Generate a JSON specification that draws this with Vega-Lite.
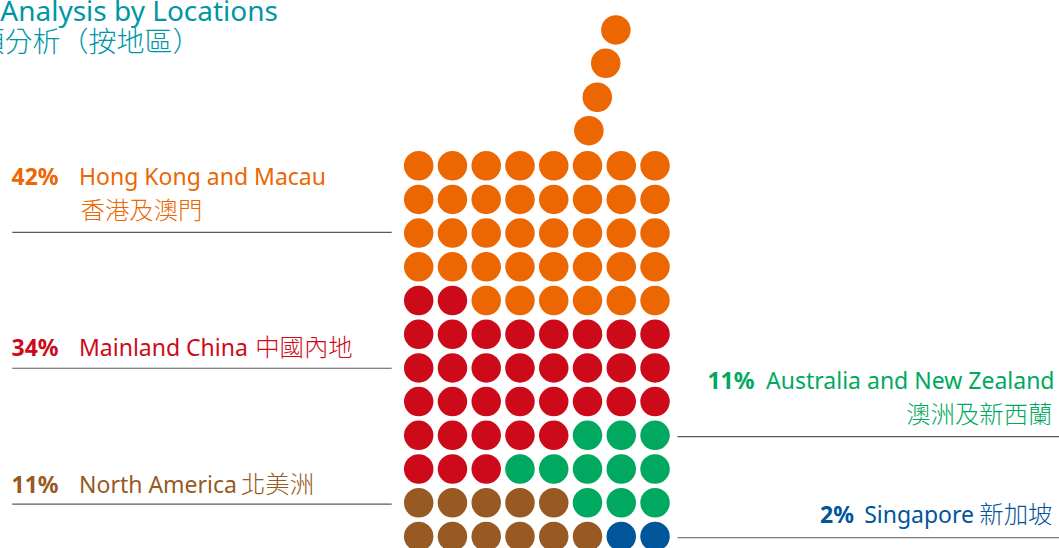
{
  "$schema": "https://vega.github.io/schema/vega-lite/v6.json",
  "width": 1059,
  "height": 548,
  "padding": 0,
  "autosize": {"type": "none"},
  "background": "white",
  "config": {"view": {"stroke": null}},
  "datasets": {
    "dots": [
      {"c":0,"r":0,"g":"NA"},{"c":1,"r":0,"g":"NA"},{"c":2,"r":0,"g":"NA"},{"c":3,"r":0,"g":"NA"},{"c":4,"r":0,"g":"NA"},{"c":5,"r":0,"g":"NA"},{"c":6,"r":0,"g":"SG"},{"c":7,"r":0,"g":"SG"},
      {"c":0,"r":1,"g":"NA"},{"c":1,"r":1,"g":"NA"},{"c":2,"r":1,"g":"NA"},{"c":3,"r":1,"g":"NA"},{"c":4,"r":1,"g":"NA"},{"c":5,"r":1,"g":"AU"},{"c":6,"r":1,"g":"AU"},{"c":7,"r":1,"g":"AU"},
      {"c":0,"r":2,"g":"CN"},{"c":1,"r":2,"g":"CN"},{"c":2,"r":2,"g":"CN"},{"c":3,"r":2,"g":"AU"},{"c":4,"r":2,"g":"AU"},{"c":5,"r":2,"g":"AU"},{"c":6,"r":2,"g":"AU"},{"c":7,"r":2,"g":"AU"},
      {"c":0,"r":3,"g":"CN"},{"c":1,"r":3,"g":"CN"},{"c":2,"r":3,"g":"CN"},{"c":3,"r":3,"g":"CN"},{"c":4,"r":3,"g":"CN"},{"c":5,"r":3,"g":"AU"},{"c":6,"r":3,"g":"AU"},{"c":7,"r":3,"g":"AU"},
      {"c":0,"r":4,"g":"CN"},{"c":1,"r":4,"g":"CN"},{"c":2,"r":4,"g":"CN"},{"c":3,"r":4,"g":"CN"},{"c":4,"r":4,"g":"CN"},{"c":5,"r":4,"g":"CN"},{"c":6,"r":4,"g":"CN"},{"c":7,"r":4,"g":"CN"},
      {"c":0,"r":5,"g":"CN"},{"c":1,"r":5,"g":"CN"},{"c":2,"r":5,"g":"CN"},{"c":3,"r":5,"g":"CN"},{"c":4,"r":5,"g":"CN"},{"c":5,"r":5,"g":"CN"},{"c":6,"r":5,"g":"CN"},{"c":7,"r":5,"g":"CN"},
      {"c":0,"r":6,"g":"CN"},{"c":1,"r":6,"g":"CN"},{"c":2,"r":6,"g":"CN"},{"c":3,"r":6,"g":"CN"},{"c":4,"r":6,"g":"CN"},{"c":5,"r":6,"g":"CN"},{"c":6,"r":6,"g":"CN"},{"c":7,"r":6,"g":"CN"},
      {"c":0,"r":7,"g":"CN"},{"c":1,"r":7,"g":"CN"},{"c":2,"r":7,"g":"HK"},{"c":3,"r":7,"g":"HK"},{"c":4,"r":7,"g":"HK"},{"c":5,"r":7,"g":"HK"},{"c":6,"r":7,"g":"HK"},{"c":7,"r":7,"g":"HK"},
      {"c":0,"r":8,"g":"HK"},{"c":1,"r":8,"g":"HK"},{"c":2,"r":8,"g":"HK"},{"c":3,"r":8,"g":"HK"},{"c":4,"r":8,"g":"HK"},{"c":5,"r":8,"g":"HK"},{"c":6,"r":8,"g":"HK"},{"c":7,"r":8,"g":"HK"},
      {"c":0,"r":9,"g":"HK"},{"c":1,"r":9,"g":"HK"},{"c":2,"r":9,"g":"HK"},{"c":3,"r":9,"g":"HK"},{"c":4,"r":9,"g":"HK"},{"c":5,"r":9,"g":"HK"},{"c":6,"r":9,"g":"HK"},{"c":7,"r":9,"g":"HK"},
      {"c":0,"r":10,"g":"HK"},{"c":1,"r":10,"g":"HK"},{"c":2,"r":10,"g":"HK"},{"c":3,"r":10,"g":"HK"},{"c":4,"r":10,"g":"HK"},{"c":5,"r":10,"g":"HK"},{"c":6,"r":10,"g":"HK"},{"c":7,"r":10,"g":"HK"},
      {"c":0,"r":11,"g":"HK"},{"c":1,"r":11,"g":"HK"},{"c":2,"r":11,"g":"HK"},{"c":3,"r":11,"g":"HK"},{"c":4,"r":11,"g":"HK"},{"c":5,"r":11,"g":"HK"},{"c":6,"r":11,"g":"HK"},{"c":7,"r":11,"g":"HK"},
      {"c":5.04,"r":12.04,"g":"HK"},{"c":5.29,"r":13.03,"g":"HK"},{"c":5.54,"r":14.04,"g":"HK"},{"c":5.84,"r":15.03,"g":"HK"}
    ],
    "rules": [
      {"c":-12.04,"c2":-0.8,"r":9.02,"g":"L"},
      {"c":-12.04,"c2":-0.8,"r":4.99,"g":"L"},
      {"c":-12.04,"c2":-0.8,"r":0.96,"g":"L"},
      {"c":7.666,"c2":19.2,"r":2.96,"g":"L"},
      {"c":7.666,"c2":19.2,"r":-0.04,"g":"L"}
    ],
    "boldLeft": [
      {"c":-12.06,"r":10.427,"t":"42%","g":"HK"},
      {"c":-12.06,"r":5.353,"t":"34%","g":"CN"},
      {"c":-12.06,"r":1.279,"t":"11%","g":"NA"}
    ],
    "regLeft": [
      {"c":-10.062,"r":10.427,"t":"Hong Kong and Macau","g":"HK"},
      {"c":-10.062,"r":5.353,"t":"Mainland China","g":"CN"},
      {"c":-10.062,"r":1.279,"t":"North America","g":"NA"}
    ],
    "cjkLeft": [
      {"c":-10.017,"r":9.418,"t":"香港及澳門","g":"HK"},
      {"c":-4.843,"r":5.353,"t":"中國內地","g":"CN"},
      {"c":-5.264,"r":1.279,"t":"北美洲","g":"NA"}
    ],
    "boldRight": [
      {"c":9.947,"r":4.365,"t":"11%","g":"AU"},
      {"c":12.894,"r":0.389,"t":"2%","g":"SG"}
    ],
    "regRight": [
      {"c":18.833,"r":4.365,"t":"Australia and New Zealand","g":"AU"},
      {"c":16.45,"r":0.389,"t":"Singapore","g":"SG"}
    ],
    "cjkRight": [
      {"c":18.774,"r":3.38,"t":"澳洲及新西蘭","g":"AU"},
      {"c":18.774,"r":0.389,"t":"新加坡","g":"SG"}
    ],
    "titleEn": [
      {"c":-4.167,"r":15.303,"t":"Analysis by Locations","g":"T"}
    ],
    "titleZh": [
      {"c":-13.098,"r":14.374,"t":"類分析（按地區）","g":"T"}
    ]
  },
  "encoding": {
    "x": {"field":"c","type":"quantitative","scale":{"domain":[-12.402,18.966],"nice":false,"zero":false},"axis":null},
    "y": {"field":"r","type":"quantitative","scale":{"domain":[-0.344,15.917],"nice":false,"zero":false},"axis":null},
    "color": {"field":"g","type":"nominal","scale":{"domain":["HK","CN","NA","AU","SG","T","L"],"range":["#EC6602","#CC0A1A","#965A22","#00A95F","#00559B","#0096A6","#5a5a5a"]},"legend":null}
  },
  "layer": [
    {
      "data": {"name":"rules"},
      "mark": {"type":"rule","strokeWidth":1.2},
      "encoding": {"x2": {"field":"c2"}}
    },
    {
      "data": {"name":"dots"},
      "mark": {"type":"circle","size":870,"opacity":1,"strokeWidth":0}
    },
    {
      "data": {"name":"boldLeft"},
      "mark": {"type":"text","align":"left","baseline":"alphabetic","font":"'Noto Sans', sans-serif","fontSize":23,"fontWeight":"bold"},
      "encoding": {"text": {"field":"t"}}
    },
    {
      "data": {"name":"regLeft"},
      "mark": {"type":"text","align":"left","baseline":"alphabetic","font":"'Noto Sans', sans-serif","fontSize":23},
      "encoding": {"text": {"field":"t"}}
    },
    {
      "data": {"name":"cjkLeft"},
      "mark": {"type":"text","align":"left","baseline":"alphabetic","font":"'Noto Sans CJK TC', sans-serif","fontSize":24.4,"fontWeight":300},
      "encoding": {"text": {"field":"t"}}
    },
    {
      "data": {"name":"boldRight"},
      "mark": {"type":"text","align":"right","baseline":"alphabetic","font":"'Noto Sans', sans-serif","fontSize":23,"fontWeight":"bold"},
      "encoding": {"text": {"field":"t"}}
    },
    {
      "data": {"name":"regRight"},
      "mark": {"type":"text","align":"right","baseline":"alphabetic","font":"'Noto Sans', sans-serif","fontSize":23},
      "encoding": {"text": {"field":"t"}}
    },
    {
      "data": {"name":"cjkRight"},
      "mark": {"type":"text","align":"right","baseline":"alphabetic","font":"'Noto Sans CJK TC', sans-serif","fontSize":24.4,"fontWeight":300},
      "encoding": {"text": {"field":"t"}}
    },
    {
      "data": {"name":"titleEn"},
      "mark": {"type":"text","align":"right","baseline":"alphabetic","font":"'Noto Sans', sans-serif","fontSize":28},
      "encoding": {"text": {"field":"t"}}
    },
    {
      "data": {"name":"titleZh"},
      "mark": {"type":"text","align":"left","baseline":"alphabetic","font":"'Noto Sans CJK TC', sans-serif","fontSize":28,"fontWeight":300},
      "encoding": {"text": {"field":"t"}}
    }
  ]
}
